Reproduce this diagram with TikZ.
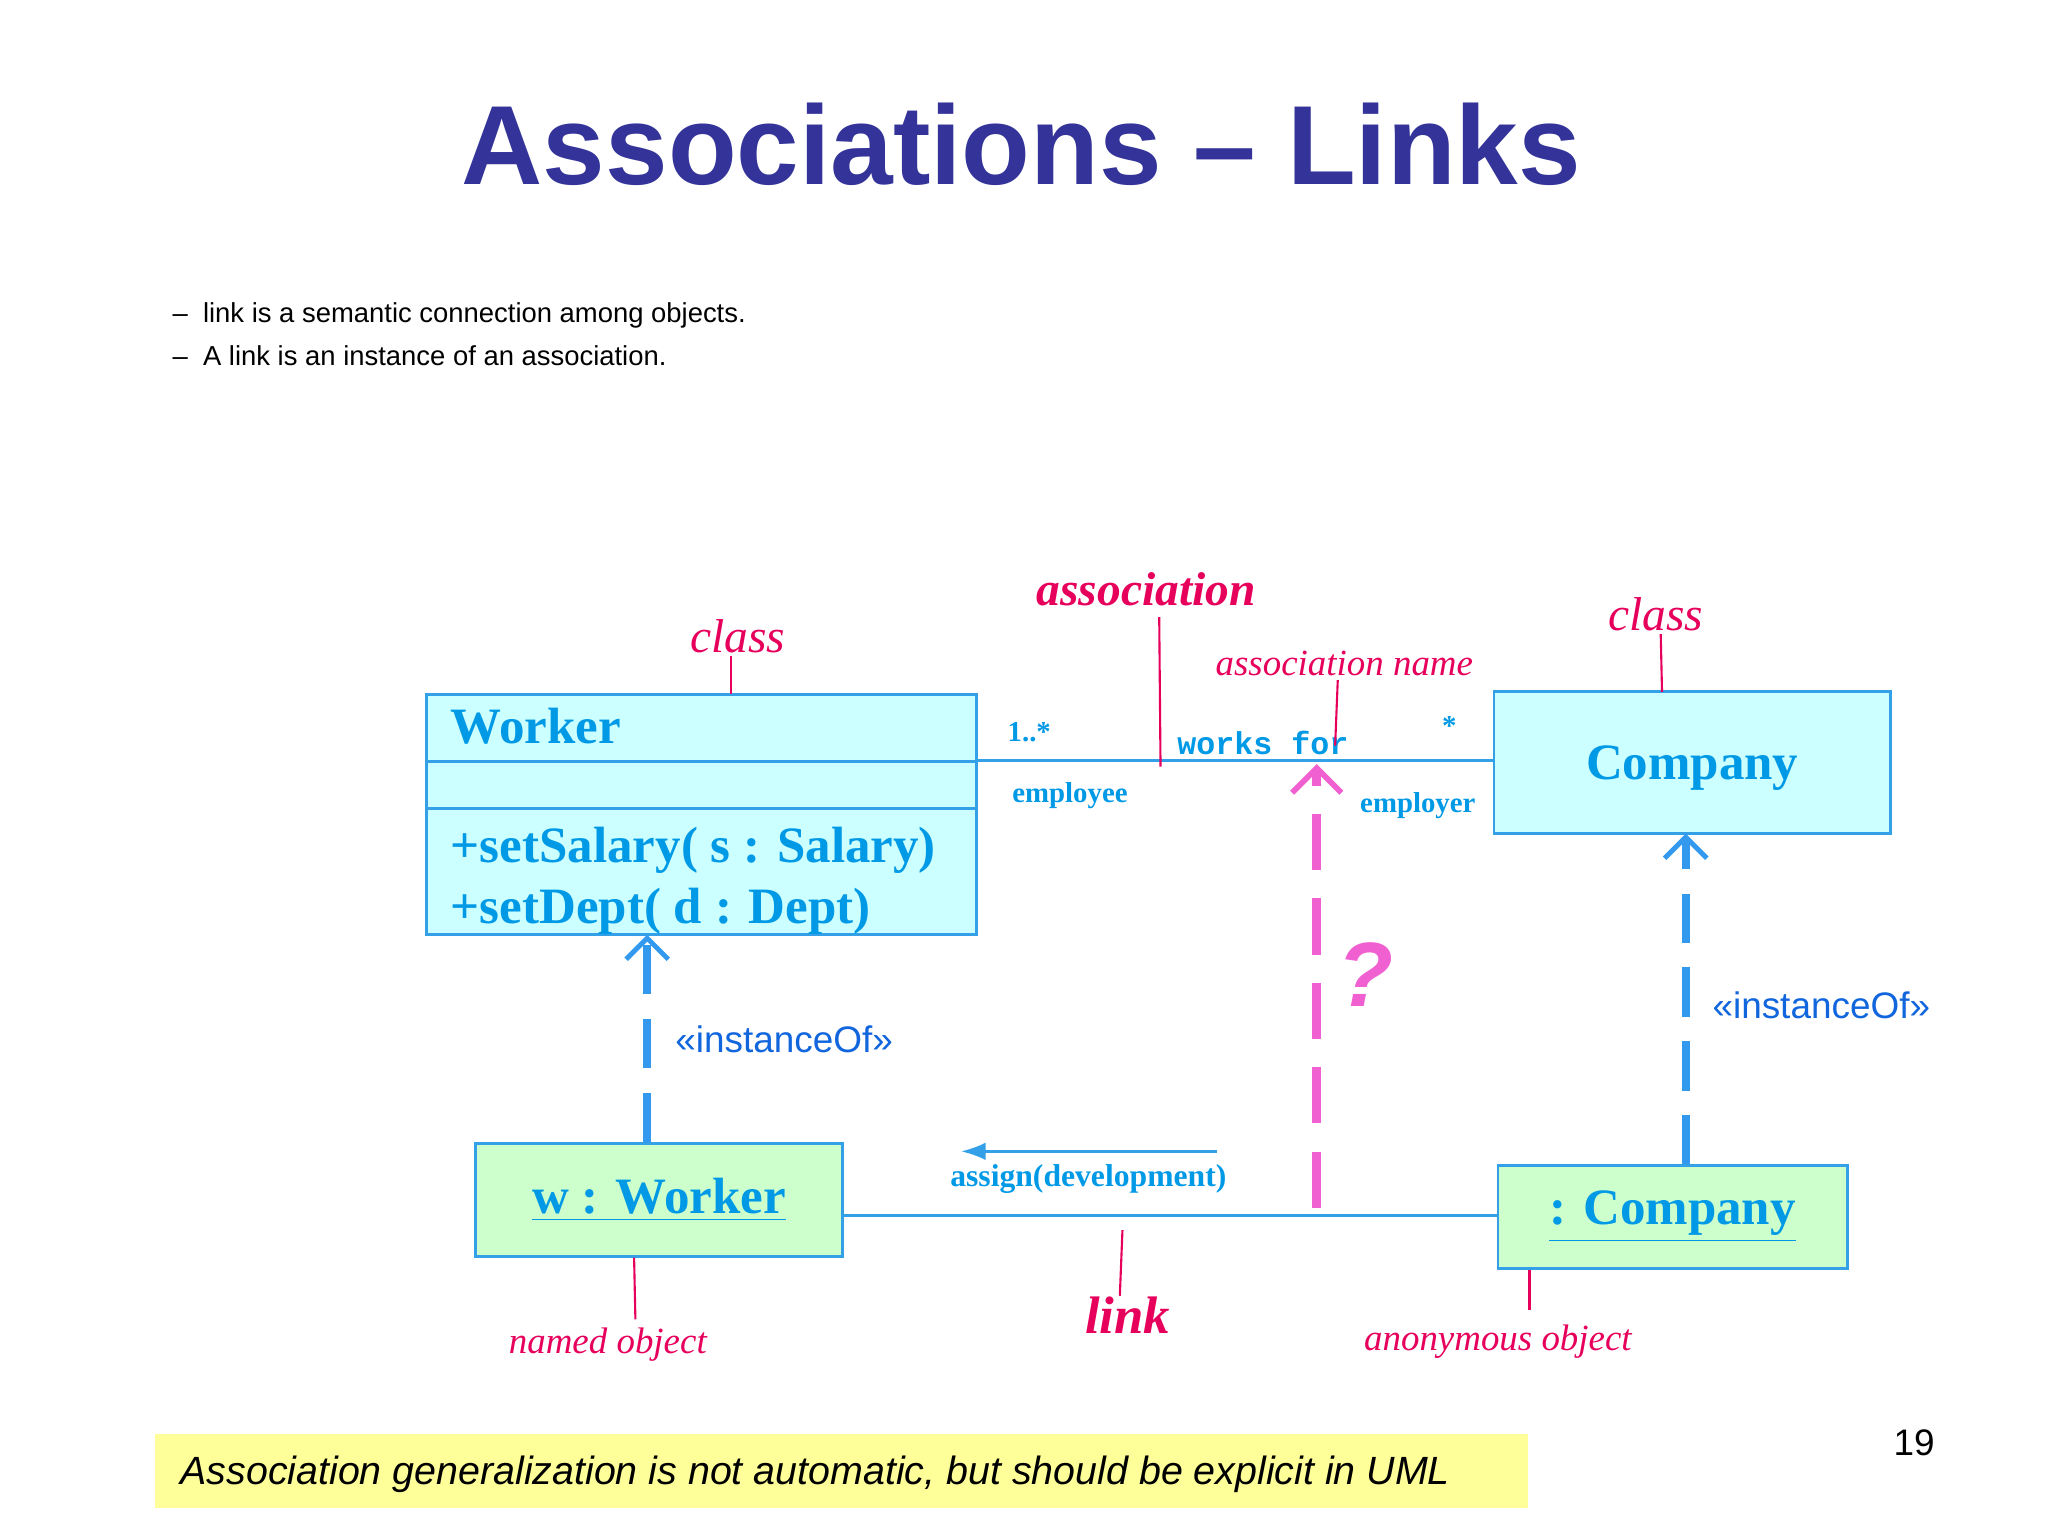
\documentclass[tikz,border=0pt]{standalone}
\usepackage{fontspec}
\setmainfont{Liberation Serif}
\setsansfont{Liberation Sans}
\setmonofont{Liberation Mono}
\usetikzlibrary{arrows.meta}
\definecolor{ttl}{HTML}{333399}
\definecolor{umlb}{HTML}{0099E6}
\definecolor{edge}{HTML}{33A0E8}
\definecolor{cyanf}{HTML}{CCFFFF}
\definecolor{greenf}{HTML}{CCFFCC}
\definecolor{ann}{HTML}{E6005C}
\definecolor{inst}{HTML}{1166DD}
\definecolor{dash}{HTML}{3399EE}
\definecolor{pinkd}{HTML}{F060D0}
\definecolor{yel}{HTML}{FFFF99}
\tikzset{
 box/.style 2 args={draw=edge,line width=0.8pt,inner sep=0,minimum width=#1*0.01313cm,minimum height=#2*0.01313cm},
 umltxt/.style={text=umlb,font=\fontsize{14.5}{17}\selectfont\bfseries},
 small/.style={text=umlb,font=\fontsize{8.2}{9}\selectfont\bfseries},
 annt/.style={text=ann,font=\fontsize{12}{13}\selectfont\itshape},
 annl/.style={draw=ann,line width=0.6pt},
 instd/.style={draw=dash,line width=2.2pt,dash pattern=on 14pt off 7pt,-{Straight Barb[length=6pt,width=12pt,line width=1.4pt]}},
 instl/.style={text=inst,font=\sffamily\fontsize{10.5}{12}\selectfont,anchor=west},
}
\begin{document}
\begin{tikzpicture}[x=0.01313cm,y=-0.01313cm]
\useasboundingbox (0,0) rectangle (1560,1170);
\node[text=ttl,font=\sffamily\bfseries\fontsize{32}{36}\selectfont] (title) at (778,110) {Associations – Links};
\node[anchor=west,font=\sffamily\fontsize{7.8}{9}\selectfont] (b1) at (122,240) {–\ \ link is a semantic connection among objects.};
\node[anchor=west,font=\sffamily\fontsize{7.8}{9}\selectfont] (b2) at (122,271) {–\ \ A link is an instance of an association.};
% Worker class
\draw[edge,fill=cyanf,line width=0.8pt] (325,529) rectangle (744,712);
\draw[edge,line width=0.8pt] (325,580) -- (744,580) (325,616) -- (744,616);
\coordinate (wtop) at (557,529);
\coordinate (wbot) at (493,712);
\node[umltxt,anchor=west] (wname) at (334,553) {Worker};
\node[umltxt,anchor=west] (m1) at (334,648) {+setSalary( s : Salary)};
\node[umltxt,anchor=west] (m2) at (334,694) {+setDept( d : Dept)};
% Company class
\draw[edge,fill=cyanf,line width=0.8pt] (1138,527) rectangle (1440,635);
\node[umltxt] (cname) at (1289,585) {Company};
\coordinate (ctop) at (1266,527);
\coordinate (cbot) at (1284,635);
% association
\coordinate (a1) at (744,579); \coordinate (a2) at (1138,579);
\draw[edge,line width=0.8pt] (a1) -- (a2);
\node[small] (m1l) at (784,558) {1..*};
\node[text=umlb,font=\ttfamily\bfseries\fontsize{9}{10}\selectfont] (wf) at (962,566) {works for};
\node[small] (star) at (1104,553) {*};
\node[small] (emp) at (815,606) {employee};
\node[small] (empr) at (1080,614) {employer};
% objects
\node[box={279}{86},fill=greenf,umltxt] (wo) at (502,914) {\underline{w : Worker}};
\node[box={266}{78},fill=greenf,umltxt] (co) at (1274,927) {\underline{: Company}};
\draw[edge,line width=0.8pt] (wo.east |- 0,926) -- (co.west |- 0,926);
% instanceOf
\draw[instd] (wo.north -| wbot) -- (wbot);
\draw[instd] (co.north -| cbot) -- (cbot);
\node[instl] (i1) at (505,792) {\textless\textless instanceOf\textgreater\textgreater};
\node[instl] (i2) at (1295,766) {\textless\textless instanceOf\textgreater\textgreater};
% pink question
\coordinate (p1) at (1003,920); \coordinate (p2) at (1003,582);
\draw[draw=pinkd,line width=2.6pt,dash pattern=on 16pt off 8pt,-{Straight Barb[length=7pt,width=14pt,line width=1.6pt]}] (p1) -- (p2);
\node[text=pinkd,font=\sffamily\bfseries\itshape\fontsize{26}{28}\selectfont] (q) at (1040,742) {?};
% message
\coordinate (ms) at (927,877); \coordinate (me) at (732,877);
\draw[edge,line width=0.8pt,-{Latex[length=7pt,width=5pt]}] (ms) -- (me);
\node[small,font=\fontsize{9}{10}\selectfont\bfseries] (msg) at (829,898) {assign(development)};
% annotations
\node[annt,font=\fontsize{13.5}{14}\selectfont\itshape] (cl1) at (562,485) {class};
\draw[annl] (557,500) -- (wtop);
\node[annt,font=\fontsize{13.5}{14}\selectfont\itshape\bfseries] (as) at (873,449) {association};
\draw[annl] (883,470) -- (884,584);
\node[annt,font=\fontsize{10.5}{12}\selectfont\itshape] (an) at (1024,505) {association name};
\draw[annl] (1019,518) -- (1017,568);
\node[annt,font=\fontsize{13.5}{14}\selectfont\itshape] (cl2) at (1261,468) {class};
\draw[annl] (1265,483) -- (ctop);
\node[annt,font=\fontsize{10.5}{12}\selectfont\itshape] (no) at (463,1024) {named object};
\draw[annl] (483,958) -- (484,1005);
\node[annt,font=\fontsize{15}{16}\selectfont\itshape\bfseries] (lk) at (859,1002) {link};
\draw[annl] (855,937) -- (853,987);
\node[annt,font=\fontsize{10.5}{12}\selectfont\itshape] (ao) at (1141,1022) {anonymous object};
\draw[annl] (1165,967) -- (1165,998);
% footer
\fill[yel] (118,1092) rectangle (1164,1149);
\node[anchor=west,font=\sffamily\itshape\fontsize{11.2}{13}\selectfont] (foot) at (128,1123) {Association generalization is not automatic, but should be explicit in UML};
\node[font=\sffamily\fontsize{10.5}{12}\selectfont] (pg) at (1458,1099) {19};
\end{tikzpicture}
\end{document}
